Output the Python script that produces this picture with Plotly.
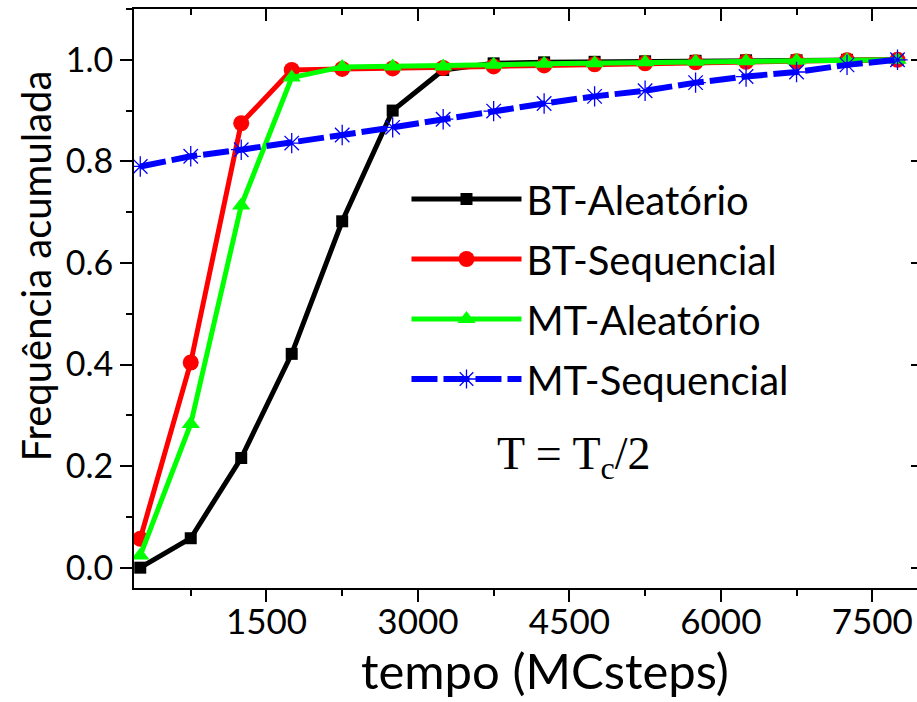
import plotly.graph_objects as go

tempo = [250, 750, 1250, 1750, 2250, 2750, 3250, 3750, 4250, 4750, 5250, 5750, 6250, 6750, 7250, 7750]

bt_aleatorio = [0.0, 0.058, 0.216, 0.421, 0.682, 0.900, 0.980, 0.993, 0.995, 0.996, 0.997, 0.998, 0.999, 0.999, 1.0, 1.0]
bt_sequencial = [0.057, 0.404, 0.875, 0.980, 0.982, 0.983, 0.984, 0.987, 0.989, 0.991, 0.993, 0.995, 0.996, 0.997, 0.999, 1.0]
mt_aleatorio = [0.024, 0.283, 0.713, 0.965, 0.986, 0.987, 0.987, 0.990, 0.992, 0.993, 0.995, 0.996, 0.997, 0.998, 0.999, 1.0]
mt_sequencial = [0.790, 0.810, 0.823, 0.836, 0.852, 0.867, 0.883, 0.899, 0.914, 0.928, 0.939, 0.955, 0.967, 0.976, 0.990, 1.0]

names = ["BT-Aleatório", "BT-Sequencial", "MT-Aleatório", "MT-Sequencial"]
x_title = "tempo (MCsteps)"
y_title = "Frequência acumulada"

FONT = "Lato"

fig = go.Figure()
fig.add_trace(go.Scatter(x=tempo, y=bt_aleatorio, name=names[0], mode="lines+markers",
                         line=dict(color="#000000", width=5),
                         marker=dict(symbol="square", size=12, color="#000000"), legendgroup="a"))
fig.add_trace(go.Scatter(x=tempo, y=bt_sequencial, name=names[1], mode="lines+markers",
                         line=dict(color="#ff0000", width=5),
                         marker=dict(symbol="circle", size=16, color="#ff0000"), legendgroup="b"))
fig.add_trace(go.Scatter(x=tempo, y=mt_aleatorio, name=names[2], mode="lines+markers",
                         line=dict(color="#00ff00", width=5),
                         marker=dict(symbol="triangle-up", size=16, color="#00ff00"), legendgroup="c"))
fig.add_trace(go.Scatter(x=tempo, y=mt_sequencial, name=names[3], mode="lines+markers",
                         line=dict(color="#0000ff", width=6, dash="26px,6px"),
                         marker=dict(symbol="asterisk-open", size=17, color="#0000ff",
                                     line=dict(color="#0000ff", width=1.3)), legendgroup="d"))
# invisible trace so the mirrored top/right axes are drawn
fig.add_trace(go.Scatter(x=tempo, y=mt_sequencial, xaxis="x2", yaxis="y2", mode="lines",
                         line=dict(width=0), opacity=0, showlegend=False, hoverinfo="skip"))

xr = [188, 7943]
yr = [-0.04, 1.1]

fig.update_layout(
    width=917, height=702,
    margin=dict(l=134, r=0, t=9, b=114, autoexpand=False),
    paper_bgcolor="white", plot_bgcolor="white",
    font=dict(family=FONT, color="black"),
    showlegend=True,
    legend=dict(x=0.348, y=0.728, xanchor="left", yanchor="top",
                font=dict(family=FONT, size=40, color="black"),
                bgcolor="rgba(0,0,0,0)", tracegroupgap=5, itemwidth=110),
    xaxis=dict(range=xr, showgrid=False, zeroline=False, showline=True, linecolor="black", linewidth=2,
               ticks="outside", ticklen=12, tickwidth=2, tickcolor="black", automargin=False,
               tick0=0, dtick=1500, tickfont=dict(family=FONT, size=35), ticklabelstandoff=-10,
               minor=dict(ticks="outside", ticklen=6, tickwidth=2, tickcolor="black", dtick=750, tick0=0)),
    yaxis=dict(range=yr, showgrid=False, zeroline=False, showline=True, linecolor="black", linewidth=2,
               ticks="outside", ticklen=12, tickwidth=2, tickcolor="black", automargin=False,
               tick0=0, dtick=0.2, tickformat=".1f", tickfont=dict(family=FONT, size=34),
               minor=dict(ticks="outside", ticklen=6, tickwidth=2, tickcolor="black", dtick=0.1, tick0=0)),
    xaxis2=dict(range=xr, overlaying="x", side="top", anchor="y", showgrid=False, zeroline=False,
                showline=True, linecolor="black", linewidth=2, showticklabels=False, automargin=False,
                ticks="inside", ticklen=12, tickwidth=2, tickcolor="black", tick0=0, dtick=1500,
                minor=dict(ticks="inside", ticklen=6, tickwidth=2, tickcolor="black", dtick=750, tick0=0)),
    yaxis2=dict(range=yr, overlaying="y", side="right", anchor="x", showgrid=False, zeroline=False,
                showline=False, showticklabels=False, automargin=False,
                ticks="inside", ticklen=6, tickwidth=2, tickcolor="black", tick0=0, dtick=0.2),
)

fig.add_annotation(text=x_title, x=0.5255, y=-0.142, xref="paper", yref="paper",
                   xanchor="center", yanchor="middle", showarrow=False,
                   font=dict(family=FONT, size=49, color="black"))
fig.add_annotation(text=y_title, x=-0.124, y=0.557, xref="paper", yref="paper", textangle=-90,
                   xanchor="center", yanchor="middle", showarrow=False,
                   font=dict(family=FONT, size=40, color="black"))
fig.add_annotation(text="T = T<sub>c</sub>/2", x=0.562, y=0.172, xref="paper", yref="paper",
                   showarrow=False, font=dict(family="Liberation Serif", size=46, color="black"))

fig.write_html("out.html", config={"displayModeBar": False},
               post_script="document.body.style.margin='0px';")
